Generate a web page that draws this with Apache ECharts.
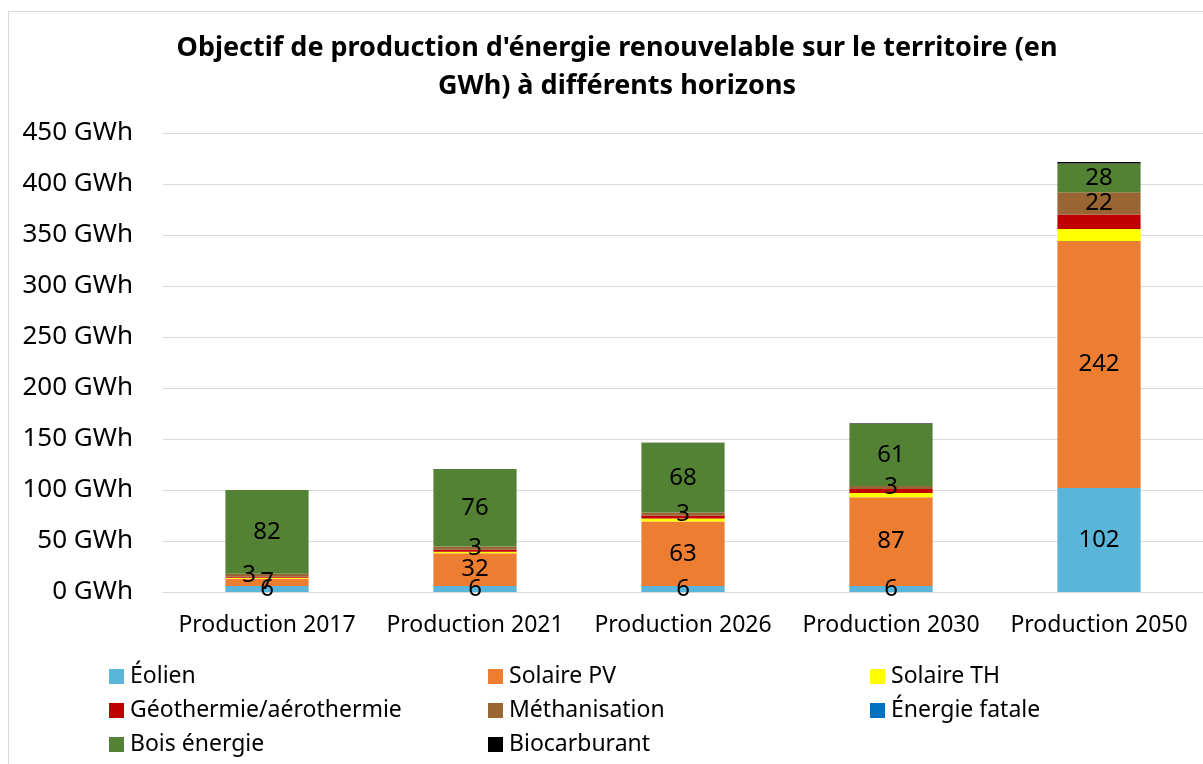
<!DOCTYPE html>
<html>
<head>
<meta charset="utf-8">
<script src="https://cdn.jsdelivr.net/npm/echarts@6/dist/echarts.min.js"></script>
<style>
html,body{margin:0;padding:0;background:#fff;}
#c{width:1203px;height:764px;}
</style>
</head>
<body>
<div id="c"></div>
<script>
const categories = ['Production 2017','Production 2021','Production 2026','Production 2030','Production 2050'];
const eolien        = [6, 6, 6, 6, 102];
const solairePV     = [7, 32, 63, 87, 242];
const solaireTH     = [1, 1.5, 3, 4, 12];
const geothermie    = [1, 2, 3, 4, 14];
const methanisation = [3, 3, 3, 3, 22];
const energieFatale = [0, 0, 0, 0, 0];
const boisEnergie   = [82, 76, 68, 61, 28];
const biocarburant  = [0, 0, 0.3, 0.5, 1.5];
const yTicks = [0, 50, 100, 150, 200, 250, 300, 350, 400, 450];

const FONT = 'Noto Sans';
const seriesDefs = [
  {name:'Éolien', data:eolien, color:'#5BB5D9', label:true},
  {name:'Solaire PV', data:solairePV, color:'#ED7D31', label:true},
  {name:'Solaire TH', data:solaireTH, color:'#FFFF00', label:false},
  {name:'Géothermie/aérothermie', data:geothermie, color:'#C00000', label:false},
  {name:'Méthanisation', data:methanisation, color:'#996633', label:true},
  {name:'Énergie fatale', data:energieFatale, color:'#0070C0', label:false},
  {name:'Bois énergie', data:boisEnergie, color:'#548235', label:true},
  {name:'Biocarburant', data:biocarburant, color:'#000000', label:false}
];

const series = seriesDefs.map(s => ({
  name: s.name,
  type: 'bar',
  stack: 'total',
  barCategoryGap: '60%',
  itemStyle: {color: s.color},
  label: {
    show: s.label,
    position: 'inside',
    color: '#000',
    fontFamily: FONT,
    fontSize: 24,
    formatter: p => (p.value > 0 ? String(p.value) : '')
  },
  emphasis: {disabled: true},
  data: s.data.map((v, i) => {
    if (s.name === 'Méthanisation' && i === 0) {
      return {value: v, label: {offset: [-18, 0]}};
    }
    return v;
  })
}));

const legendPos = [
  [104, 660], [483, 660], [865, 660],
  [104, 694], [483, 694], [865, 694],
  [104, 728], [483, 728]
];
const legends = seriesDefs.map((s, i) => ({
  data: [s.name],
  left: legendPos[i][0],
  top: legendPos[i][1],
  itemWidth: 15,
  itemHeight: 15,
  itemGap: 5,
  icon: 'rect',
  selectedMode: false,
  textStyle: {fontFamily: FONT, fontSize: 23, color: '#000', padding: [0,0,0,1]}
}));

const chart = echarts.init(document.getElementById('c'), null, {renderer: 'canvas'});
chart.setOption({
  animation: false,
  backgroundColor: '#fff',
  title: {
    text: "Objectif de production d'énergie renouvelable sur le territoire (en\nGWh) à différents horizons",
    left: 612,
    textAlign: 'center',
    top: 24,
    textStyle: {fontFamily: FONT, fontSize: 27, fontWeight: 'bold', color: '#000', lineHeight: 38}
  },
  graphic: [{
    type: 'rect',
    shape: {x: 8.5, y: 11.5, width: 1300, height: 800},
    style: {fill: 'none', stroke: '#d9d9d9', lineWidth: 1},
    silent: true, z: 100
  }],
  legend: legends,
  grid: {left: 163, right: 0, top: 133, bottom: 172, containLabel: false},
  xAxis: {
    type: 'category',
    data: categories,
    axisTick: {show: false},
    axisLine: {show: true, lineStyle: {color: '#d9d9d9', width: 1}},
    axisLabel: {fontFamily: FONT, fontSize: 23, color: '#000', margin: 22, interval: 0}
  },
  yAxis: {
    type: 'value',
    min: yTicks[0],
    max: yTicks[yTicks.length - 1],
    interval: yTicks[1] - yTicks[0],
    axisLine: {show: false},
    axisTick: {show: false},
    splitLine: {lineStyle: {color: '#d9d9d9', width: 1}},
    axisLabel: {fontFamily: FONT, fontSize: 26, color: '#000', margin: 30, formatter: v => v + ' GWh'}
  },
  series: series
});
</script>
</body>
</html>
